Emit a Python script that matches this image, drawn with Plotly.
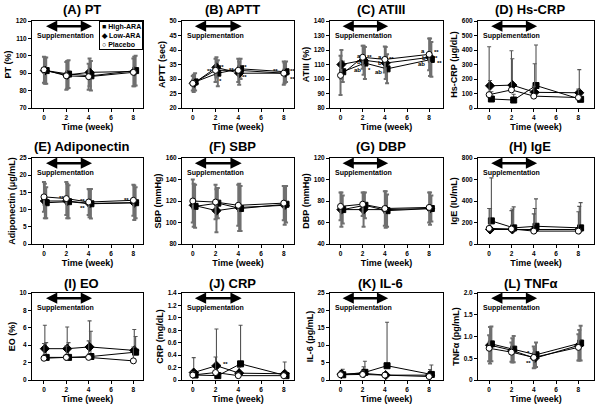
import plotly.graph_objects as go
from plotly.subplots import make_subplots

weeks = [0, 2, 4, 8]
groups = ["High-ARA", "Low-ARA", "Placebo"]

# (A) PT (%)
pt_high = [91.5, 89.5, 88.5, 91.5]
pt_low = [91.5, 89.0, 90.5, 91.0]
pt_plac = [92.0, 88.5, 88.0, 90.5]
pt_high_sd = [7.5, 8.0, 8.5, 8.5]
pt_low_sd = [7.5, 8.0, 8.0, 8.5]
pt_plac_sd = [7.5, 8.0, 7.5, 8.0]

# (B) APTT (sec)
aptt_high = [29.0, 32.0, 33.5, 32.5]
aptt_low = [28.5, 34.0, 32.0, 32.0]
aptt_plac = [28.5, 33.0, 33.0, 32.0]
aptt_high_sd = [3.0, 4.5, 3.5, 3.5]
aptt_low_sd = [3.0, 3.5, 4.0, 3.5]
aptt_plac_sd = [2.5, 4.0, 4.0, 4.0]

# (C) ATIII (%)
at_high = [105.0, 111.0, 107.0, 113.5]
at_low = [110.0, 113.0, 111.0, 115.0]
at_plac = [102.5, 115.0, 113.5, 117.0]
at_high_sd = [7.0, 11.0, 10.0, 12.0]
at_low_sd = [10.0, 10.0, 11.0, 13.0]
at_plac_sd = [13.5, 8.0, 9.0, 11.0]

# (D) Hs-CRP (ug/dL)  (upper SD only)
hs_high = [62, 55, 155, 60]
hs_low = [153, 158, 108, 105]
hs_plac = [92, 125, 82, 72]
hs_high_sd = [50, 40, 280, 50]
hs_low_sd = [37, 182, 197, 160]
hs_plac_sd = [330, 270, 68, 58]

# (E) Adiponectin (ug/mL)
adi_high = [12.0, 12.3, 11.7, 12.0]
adi_low = [12.5, 12.5, 11.8, 12.0]
adi_plac = [13.7, 13.2, 12.2, 12.7]
adi_high_sd = [4.5, 4.8, 4.3, 4.5]
adi_low_sd = [5.0, 5.0, 4.0, 5.0]
adi_plac_sd = [4.3, 4.8, 3.8, 4.5]

# (F) SBP (mmHg)
sbp_high = [115, 118, 113, 117]
sbp_low = [116, 111, 114, 116]
sbp_plac = [120, 119, 116, 118]
sbp_high_sd = [20, 14, 21, 17]
sbp_low_sd = [20, 20, 22, 18]
sbp_plac_sd = [20, 16, 19, 16]

# (G) DBP (mmHg)
dbp_high = [72, 76, 71, 73]
dbp_low = [72, 72, 72, 73]
dbp_plac = [75, 77, 73, 74]
dbp_high_sd = [13, 12, 15, 12]
dbp_low_sd = [16, 16, 17, 15]
dbp_plac_sd = [13, 11, 16, 14]

# (H) IgE (IU/mL)  (upper SD only)
ige_high = [215, 150, 165, 150]
ige_low = [135, 135, 135, 135]
ige_plac = [145, 140, 120, 120]
ige_high_sd = [400, 195, 255, 235]
ige_low_sd = [195, 190, 195, 215]
ige_plac_sd = [185, 170, 160, 180]

# (I) EO (%)  (upper SD only)
eo_high = [2.6, 2.6, 2.7, 3.2]
eo_low = [3.6, 3.6, 3.8, 3.4]
eo_plac = [2.5, 2.6, 2.6, 2.2]
eo_high_sd = [1.7, 1.7, 2.9, 1.8]
eo_low_sd = [2.7, 2.5, 3.0, 2.4]
eo_plac_sd = [1.7, 1.3, 1.9, 1.6]

# (J) CRP (mg/dL)  (upper SD only)
crp_high = [0.08, 0.07, 0.26, 0.07]
crp_low = [0.12, 0.23, 0.11, 0.10]
crp_plac = [0.08, 0.12, 0.07, 0.07]
crp_high_sd = [0.07, 0.05, 0.62, 0.05]
crp_low_sd = [0.24, 0.59, 0.09, 0.19]
crp_plac_sd = [0.05, 0.25, 0.05, 0.04]

# (K) IL-6 (pg/mL)  (upper SD only)
il6_high = [1.5, 2.2, 4.1, 1.6]
il6_low = [1.7, 1.9, 1.4, 1.4]
il6_plac = [1.5, 1.6, 1.4, 1.0]
il6_high_sd = [1.6, 3.2, 12.5, 2.7]
il6_low_sd = [1.0, 1.9, 0.6, 1.6]
il6_plac_sd = [0.8, 1.0, 0.5, 0.6]

# (L) TNFa (pg/mL)
tnf_high = [0.83, 0.71, 0.58, 0.85]
tnf_low = [0.80, 0.68, 0.50, 0.80]
tnf_plac = [0.73, 0.64, 0.52, 0.75]
tnf_high_sd = [0.40, 0.30, 0.28, 0.40]
tnf_low_sd = [0.42, 0.28, 0.22, 0.35]
tnf_plac_sd = [0.30, 0.22, 0.25, 0.30]

titles = ["(A) PT", "(B) APTT", "(C) ATIII", "(D) Hs-CRP",
          "(E) Adiponectin", "(F) SBP", "(G) DBP", "(H) IgE",
          "(I) EO", "(J) CRP", "(K) IL-6", "(L) TNFα"]
ytitles = ["PT (%)", "APTT (sec)", "ATIII (%)", "Hs-CRP (μg/dL)",
           "Adiponectin (μg/mL)", "SBP (mmHg)", "DBP (mmHg)", "IgE (IU/mL)",
           "EO (%)", "CRP (mg/dL)", "IL-6 (pg/mL)", "TNFα (pg/mL)"]
ytick_sets = [
    [70, 80, 90, 100, 110, 120],
    [20, 25, 30, 35, 40, 45, 50],
    [80, 90, 100, 110, 120, 130, 140],
    [0, 100, 200, 300, 400, 500, 600],
    [0, 5, 10, 15, 20, 25],
    [80, 100, 120, 140, 160],
    [40, 60, 80, 100, 120],
    [0, 200, 400, 600, 800],
    [0, 2, 4, 6, 8, 10],
    [0, 0.2, 0.4, 0.6, 0.8, 1.0, 1.2, 1.4],
    [0, 5, 10, 15, 20, 25],
    [0, 0.5, 1.0, 1.5, 2.0],
]
ytick_labels = [
    ["70", "80", "90", "100", "110", "120"],
    ["20", "25", "30", "35", "40", "45", "50"],
    ["80", "90", "100", "110", "120", "130", "140"],
    ["0", "100", "200", "300", "400", "500", "600"],
    ["0", "5", "10", "15", "20", "25"],
    ["80", "100", "120", "140", "160"],
    ["40", "60", "80", "100", "120"],
    ["0", "200", "400", "600", "800"],
    ["0", "2", "4", "6", "8", "10"],
    ["0", "0.2", "0.4", "0.6", "0.8", "1.0", "1.2", "1.4"],
    ["0", "5", "10", "15", "20", "25"],
    ["0", "0.5", "1.0", "1.5", "2.0"],
]
xticks = [0, 2, 4, 6, 8]

panel_means = [
    (pt_high, pt_low, pt_plac), (aptt_high, aptt_low, aptt_plac),
    (at_high, at_low, at_plac), (hs_high, hs_low, hs_plac),
    (adi_high, adi_low, adi_plac), (sbp_high, sbp_low, sbp_plac),
    (dbp_high, dbp_low, dbp_plac), (ige_high, ige_low, ige_plac),
    (eo_high, eo_low, eo_plac), (crp_high, crp_low, crp_plac),
    (il6_high, il6_low, il6_plac), (tnf_high, tnf_low, tnf_plac),
]
panel_sds = [
    (pt_high_sd, pt_low_sd, pt_plac_sd), (aptt_high_sd, aptt_low_sd, aptt_plac_sd),
    (at_high_sd, at_low_sd, at_plac_sd), (hs_high_sd, hs_low_sd, hs_plac_sd),
    (adi_high_sd, adi_low_sd, adi_plac_sd), (sbp_high_sd, sbp_low_sd, sbp_plac_sd),
    (dbp_high_sd, dbp_low_sd, dbp_plac_sd), (ige_high_sd, ige_low_sd, ige_plac_sd),
    (eo_high_sd, eo_low_sd, eo_plac_sd), (crp_high_sd, crp_low_sd, crp_plac_sd),
    (il6_high_sd, il6_low_sd, il6_plac_sd), (tnf_high_sd, tnf_low_sd, tnf_plac_sd),
]
upper_only = [False, False, False, True, False, False, False, True, True, True, True, False]

# significance marks: (panel index, text, week position, value)
sig_marks = [
    (1, "**", 1.5, 32.8), (1, "**", 2.55, 34.1), (1, "*", 2.45, 29.4),
    (1, "**", 3.4, 33.0), (1, "**", 4.55, 34.1), (1, "**", 4.55, 30.7),
    (1, "**", 7.25, 32.6), (1, "**", 8.75, 32.6), (1, "**", 8.75, 30.0),
    (2, "a", 1.7, 116.0), (2, "b", 1.7, 111.5), (2, "ab", 1.5, 106.5),
    (2, "**", 2.6, 115.0), (2, "*", 2.6, 106.0),
    (2, "a", 3.55, 115.5), (2, "b", 3.55, 111.0), (2, "ab", 3.4, 105.0),
    (2, "**", 4.6, 114.0),
    (2, "a", 7.45, 119.0), (2, "b", 7.5, 114.5), (2, "ab", 7.35, 110.0),
    (2, "**", 8.65, 118.5), (2, "*", 8.7, 114.5), (2, "**", 8.9, 111.0),
    (4, "**", 1.55, 13.3), (4, "**", 3.45, 12.4), (4, "**", 3.45, 10.4),
    (4, "**", 7.4, 12.8),
    (9, "**", 2.9, 0.26),
    (11, "*", 3.5, 0.62), (11, "**", 3.5, 0.40),
]

FONT = "Liberation Sans, Arial, sans-serif"
W, H = 600, 412
col_px = [(32, 143), (182, 294), (330, 443), (478, 594)]
row_px = [(21, 108), (158, 244), (293, 380)]
title_y = [10, 147, 283]
xranges = [[-1.07, 8.86], [-0.95, 8.9], [-0.95, 9.25], [-1.0, 9.4]]
offsets = [0.2, 0.08, 0.0]
symbols = ["square", "diamond", "circle"]
sizes = [6, 7, 6]
fills = ["black", "black", "white"]

fig = make_subplots(rows=3, cols=4)
annotations = []

for k in range(12):
    r, c = divmod(k, 4)
    n = k + 1
    xs = "" if n == 1 else str(n)
    means = panel_means[k]
    sds = panel_sds[k]
    for g in range(3):
        if upper_only[k]:
            err = dict(type="data", symmetric=False, array=sds[g],
                       arrayminus=[0] * len(sds[g]), color="#555555",
                       thickness=1.1, width=2)
        else:
            err = dict(type="data", array=sds[g], color="#707070",
                       thickness=2.0, width=2)
        fig.add_trace(go.Scatter(
            x=[w + offsets[g] for w in weeks], y=means[g],
            mode="lines+markers", name=groups[g], showlegend=False,
            line=dict(color="black", width=1),
            marker=dict(symbol=symbols[g], size=sizes[g],
                        color=fills[g], line=dict(color="black", width=1)),
            error_y=err), row=r + 1, col=c + 1)
    x0, x1 = col_px[c]
    y0, y1 = row_px[r]
    fig.update_xaxes(row=r + 1, col=c + 1, domain=[x0 / W, x1 / W],
                     range=xranges[c], tickvals=xticks, ticks="outside",
                     ticklen=3, tickwidth=1, tickcolor="black",
                     showline=True, linecolor="black", linewidth=1,
                     mirror=True, showgrid=False, zeroline=False,
                     automargin=False,
                     tickfont=dict(size=6.5, family=FONT, color="black", weight="bold"),
                     title=dict(text="Time (week)", standoff=3,
                                font=dict(size=9, family=FONT, color="black", weight="bold")))
    yv = ytick_sets[k]
    fig.update_yaxes(row=r + 1, col=c + 1, domain=[1 - y1 / H, 1 - y0 / H],
                     range=[yv[0], yv[-1]], tickvals=yv, ticktext=ytick_labels[k],
                     ticks="outside", ticklen=3, tickwidth=1, tickcolor="black",
                     showline=True, linecolor="black", linewidth=1,
                     mirror=True, showgrid=False, zeroline=False,
                     automargin=False,
                     tickfont=dict(size=6.5, family=FONT, color="black", weight="bold"),
                     title=dict(text=ytitles[k], standoff=2,
                                font=dict(size=9, family=FONT, color="black", weight="bold")))
    # panel title
    annotations.append(dict(text=titles[k], xref="paper", yref="paper",
                            x=((x0 + x1) / 2 - 6) / W, y=1 - title_y[r] / H,
                            xanchor="center", yanchor="middle", showarrow=False,
                            font=dict(size=13, family=FONT, color="black", weight="bold")))
    # supplementation arrow
    annotations.append(dict(text="", xref="x" + xs, axref="x" + xs,
                            yref="y" + xs + " domain", ayref="y" + xs + " domain",
                            x=4.3, ax=0.05, y=0.94, ay=0.94, showarrow=True,
                            arrowhead=2, arrowside="end+start", arrowsize=0.9,
                            arrowwidth=2.5, arrowcolor="black"))
    annotations.append(dict(text="Supplementation", xref="x" + xs + " domain",
                            yref="y" + xs + " domain", x=0.03, y=0.83,
                            xanchor="left", yanchor="middle", showarrow=False,
                            font=dict(size=7, family=FONT, color="black", weight="bold")))

for (k, txt, xv, yv) in sig_marks:
    n = k + 1
    xs = "" if n == 1 else str(n)
    annotations.append(dict(text=txt, xref="x" + xs, yref="y" + xs, x=xv, y=yv,
                            xanchor="center", yanchor="middle", showarrow=False,
                            font=dict(size=6, family=FONT, color="black", weight="bold")))

# legend box in panel A
annotations.append(dict(text="■ High-ARA<br>◆ Low-ARA<br>○ Placebo",
                        xref="x domain", yref="y domain", x=1.0, y=1.0,
                        xanchor="right", yanchor="top", align="left",
                        showarrow=False, bordercolor="black", borderwidth=1,
                        borderpad=1, bgcolor="white",
                        font=dict(size=7, family=FONT, color="black", weight="bold")))

fig.update_layout(width=W, height=H, margin=dict(l=0, r=0, t=0, b=0),
                  paper_bgcolor="white", plot_bgcolor="white",
                  showlegend=False, annotations=annotations,
                  font=dict(family=FONT, color="black"))

fig.write_html("out.html", config={"displayModeBar": False},
               post_script="document.body.style.margin='0';document.body.style.overflow='hidden';")
